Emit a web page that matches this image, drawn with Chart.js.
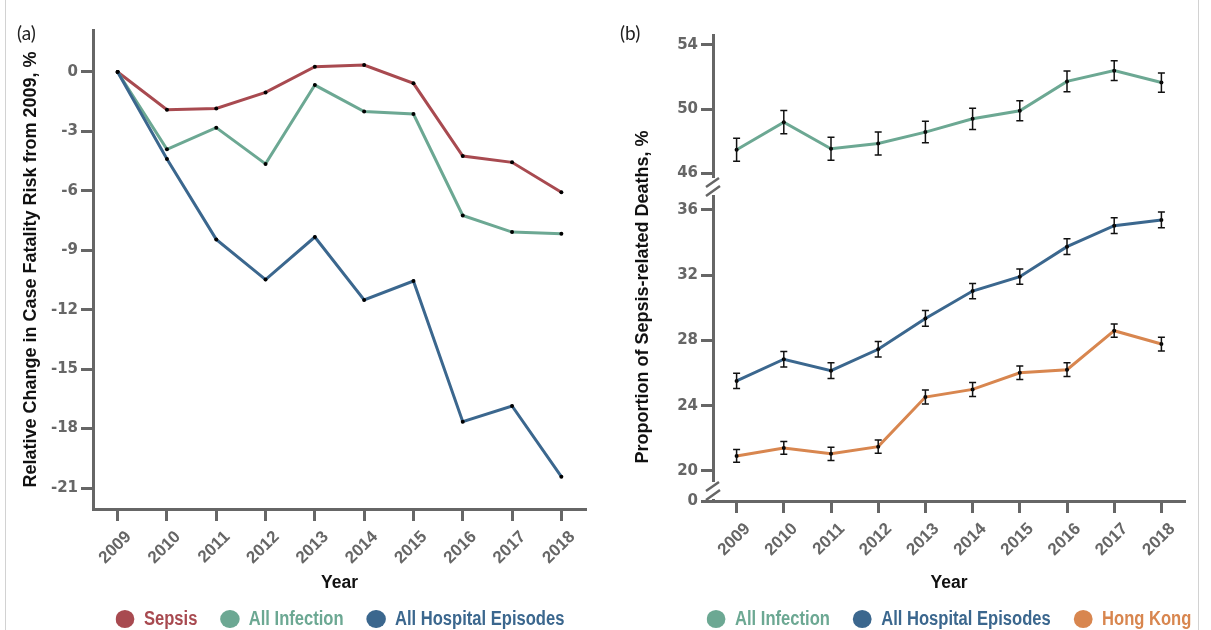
<!DOCTYPE html>
<html>
<head>
<meta charset="utf-8">
<script src="https://cdn.jsdelivr.net/npm/chart.js@4.4.0/dist/chart.umd.min.js"></script>
<style>
  html, body { margin: 0; padding: 0; background: #fff; }
  #wrap { position: relative; width: 1211px; height: 630px; overflow: hidden; }
  .panel { position: absolute; top: 0; height: 630px; }
  #pa { left: 0; width: 600px; }
  #pb { left: 600px; width: 611px; }
  .tag { position: absolute; top: 23px; font: 19px Lato, 'Open Sans', sans-serif; line-height: 1; color: #222; }
  .frame { position: absolute; top: 0; width: 1px; height: 630px; background: #d2d2d2; }
  /* the legend text in the figure is condensed; squeeze the whole row horizontally */
  .legend { position: absolute; top: 607px; height: 22px; line-height: 22px; white-space: nowrap;
            transform: translateX(-50%) scaleX(0.85); transform-origin: center;
            font: bold 19.5px 'Liberation Sans', Arial, sans-serif; }
  .legend .item { display: inline-block; margin-left: 27px; }
  .legend .item:first-child { margin-left: 0; }
  .legend .dot { display: inline-block; width: 22.4px; height: 18px; border-radius: 50%;
                 vertical-align: -3px; margin-right: 11px; }
</style>
</head>
<body>
<div id="wrap">
  <div class="frame" style="left:5px"></div>
  <div class="frame" style="left:1198px"></div>
  <div class="panel" id="pa"><canvas id="chartA"></canvas><div class="legend" id="legendA"></div></div>
  <div class="panel" id="pb"><canvas id="chartB"></canvas><div class="legend" id="legendB"></div></div>
  <div class="tag" style="left:17px">(a)</div>
  <div class="tag" style="left:620px">(b)</div>
</div>
<script>
// years on the x axis of both panels
const years = [2009, 2010, 2011, 2012, 2013, 2014, 2015, 2016, 2017, 2018];

// panel (a): relative change in case fatality risk from 2009, %
const sepsisChange    = [0, -1.90, -1.84, -1.03, 0.27, 0.35, -0.57, -4.24, -4.56, -6.07];
const infectionChange = [0, -3.90, -2.81, -4.64, -0.66, -2.00, -2.12, -7.24, -8.08, -8.16];
const hospitalChange  = [0, -4.39, -8.45, -10.48, -8.33, -11.51, -10.55, -17.65, -16.86, -20.43];
const changeTicks = [0, -3, -6, -9, -12, -15, -18, -21];

// panel (b): proportion of sepsis-related deaths, % (with error half-widths)
const infectionShare = [47.47, 49.19, 47.53, 47.86, 48.57, 49.40, 49.90, 51.73, 52.40, 51.66];
const infectionErr   = [0.72, 0.73, 0.72, 0.72, 0.67, 0.66, 0.63, 0.64, 0.61, 0.60];
const hospitalShare  = [25.52, 26.85, 26.15, 27.46, 29.35, 31.03, 31.91, 33.75, 35.04, 35.39];
const hospitalErr    = [0.47, 0.47, 0.48, 0.48, 0.48, 0.47, 0.47, 0.48, 0.48, 0.48];
const hongKongShare  = [20.92, 21.41, 21.05, 21.49, 24.53, 25.00, 26.02, 26.21, 28.60, 27.78];
const hongKongErr    = [0.39, 0.39, 0.41, 0.40, 0.43, 0.43, 0.42, 0.42, 0.41, 0.42];
const upperTicks = [46, 50, 54];
const lowerTicks = [20, 24, 28, 32, 36];
const zeroTicks  = [0];

const C = {
  red:    '#a84a50',
  green:  '#6ca893',
  blue:   '#3b678e',
  orange: '#d8864f',
  axis:   '#666666',
  text:   '#111111',
};
const SANS = "'Liberation Sans', Arial, sans-serif";
const TICKFONT = "'DejaVu Sans', Verdana, sans-serif";

function series(label, values, color, order, yAxisID, errors) {
  return {
    label,
    data: years.map((x, i) => ({ x, y: values[i] })),
    borderColor: color,
    backgroundColor: color,
    borderWidth: 3,
    tension: 0,
    pointRadius: 2,
    pointBorderWidth: 0,
    pointBackgroundColor: '#000',
    order,
    yAxisID,
    errors,
  };
}

function yearAxis(height) {
  return {
    type: 'linear',
    position: 'bottom',
    min: 2008.5,
    max: 2018.5,
    afterBuildTicks: s => { s.ticks = years.map(v => ({ value: v })); },
    afterFit: s => { s.height = height; },
    border: { color: C.axis, width: 3 },
    grid: { drawOnChartArea: false, tickLength: 12, tickWidth: 3, tickColor: C.axis },
    ticks: {
      color: C.axis, autoSkip: false, minRotation: 45, maxRotation: 45,
      labelOffset: 11, padding: 6,
      font: { family: SANS, weight: 'bold', size: 17 },
      callback: v => String(v),
    },
    title: {
      display: true, text: 'Year', color: C.text,
      font: { family: SANS, weight: 'bold', size: 17.5 },
      padding: 0,
    },
  };
}

function valueAxis(min, max, tickList, width) {
  return {
    type: 'linear',
    position: 'left',
    min, max,
    afterBuildTicks: s => { s.ticks = tickList.map(v => ({ value: v })); },
    afterFit: s => { s.width = width; },
    border: { color: C.axis, width: 3 },
    grid: { drawOnChartArea: false, tickLength: 12, tickWidth: 3, tickColor: C.axis },
    ticks: {
      color: C.axis, autoSkip: false, padding: 3,
      font: { family: TICKFONT, weight: 'bold', size: 15 },
      callback: v => String(v),
    },
  };
}

function axisTitle(text) {
  return {
    display: true, text, color: C.text,
    font: { family: SANS, weight: 'bold', size: 18 },
    padding: 0,
  };
}

// error bars drawn through each dataset's own scales
const errorBars = {
  id: 'errorBars',
  afterDatasetsDraw(chart) {
    const { ctx } = chart;
    chart.data.datasets.forEach((ds, i) => {
      if (!ds.errors) return;
      const meta = chart.getDatasetMeta(i);
      const xs = chart.scales[meta.xAxisID];
      const ys = chart.scales[meta.yAxisID];
      ctx.save();
      ctx.strokeStyle = '#111';
      ctx.lineWidth = 1.5;
      ds.data.forEach((p, j) => {
        const x = xs.getPixelForValue(p.x);
        const top = ys.getPixelForValue(p.y + ds.errors[j]);
        const bot = ys.getPixelForValue(p.y - ds.errors[j]);
        ctx.beginPath();
        ctx.moveTo(x, top); ctx.lineTo(x, bot);
        ctx.moveTo(x - 3.5, top); ctx.lineTo(x + 3.5, top);
        ctx.moveTo(x - 3.5, bot); ctx.lineTo(x + 3.5, bot);
        ctx.stroke();
      });
      ctx.restore();
    });
  }
};

// "//" marks where the stacked y scales meet
const axisBreaks = {
  id: 'axisBreaks',
  afterDraw(chart) {
    const { ctx } = chart;
    const x = chart.chartArea.left;
    [chart.scales.yTop.bottom, chart.scales.yLow.top].forEach(yb => {
      ctx.save();
      ctx.fillStyle = '#fff';
      ctx.fillRect(x - 3, yb - 9, 6, 17);
      ctx.strokeStyle = C.axis;
      ctx.lineWidth = 2.5;
      ctx.beginPath();
      ctx.moveTo(x - 7, yb + 0); ctx.lineTo(x + 6, yb - 9);
      ctx.moveTo(x - 7, yb + 9); ctx.lineTo(x + 7, yb - 1);
      ctx.stroke();
      ctx.restore();
    });
  }
};

// centre the shared y title beside the plotted values
const titlePlacer = {
  id: 'titlePlacer',
  afterLayout(chart) {
    const s = chart.scales.yTitle;
    s.top = chart.scales.yTop.top + 58;
    s.bottom = chart.chartArea.bottom;
  }
};

// legend as page text, centred under the plot area
function buildLegend(chart, id) {
  const box = document.getElementById(id);
  chart.data.datasets.forEach(ds => {
    const item = document.createElement('span');
    item.className = 'item';
    item.style.color = ds.borderColor;
    const dot = document.createElement('span');
    dot.className = 'dot';
    dot.style.background = ds.borderColor;
    item.appendChild(dot);
    item.appendChild(document.createTextNode(ds.label));
    box.appendChild(item);
  });
  box.style.left = ((chart.chartArea.left + chart.chartArea.right) / 2) + 'px';
}

const chartA = new Chart(document.getElementById('chartA'), {
  type: 'line',
  data: {
    datasets: [
      series('Sepsis', sepsisChange, C.red, 2, 'y'),
      series('All Infection', infectionChange, C.green, 1, 'y'),
      series('All Hospital Episodes', hospitalChange, C.blue, 0, 'y'),
    ]
  },
  options: {
    responsive: true,
    maintainAspectRatio: false,
    animation: false,
    layout: { padding: { top: 30, left: 20, right: 14, bottom: 36.5 } },
    plugins: { legend: { display: false }, tooltip: { enabled: false } },
    scales: {
      x: yearAxis(84.5),
      y: Object.assign(valueAxis(-22.06, 2.12, changeTicks, 73), {
        title: axisTitle('Relative Change in Case Fatality Risk from 2009, %'),
      }),
    }
  }
});

const chartB = new Chart(document.getElementById('chartB'), {
  type: 'line',
  data: {
    datasets: [
      series('All Infection', infectionShare, C.green, 2, 'yTop', infectionErr),
      series('All Hospital Episodes', hospitalShare, C.blue, 1, 'yMid', hospitalErr),
      series('Hong Kong', hongKongShare, C.orange, 0, 'yMid', hongKongErr),
    ]
  },
  options: {
    responsive: true,
    maintainAspectRatio: false,
    animation: false,
    layout: { padding: { top: 35, left: 32, right: 26, bottom: 36.5 } },
    plugins: { legend: { display: false }, tooltip: { enabled: false } },
    scales: {
      x: yearAxis(92.5),
      yTop: Object.assign(valueAxis(45.15, 54.62, upperTicks, 55), { stack: 'share', stackWeight: 152, weight: 3 }),
      yMid: Object.assign(valueAxis(18.77, 37.41, lowerTicks, 55), { stack: 'share', stackWeight: 304, weight: 2 }),
      yLow: Object.assign(valueAxis(0, 1, zeroTicks, 55), { stack: 'share', stackWeight: 10, weight: 1 }),
      yTitle: {
        type: 'linear', position: 'left', weight: 4,
        ticks: { display: false }, grid: { display: false }, border: { display: false },
        afterFit: s => { s.width = 26; },
        title: axisTitle('Proportion of Sepsis-related Deaths, %'),
      },
    }
  },
  plugins: [errorBars, axisBreaks, titlePlacer]
});

buildLegend(chartA, 'legendA');
buildLegend(chartB, 'legendB');
</script>
</body>
</html>
